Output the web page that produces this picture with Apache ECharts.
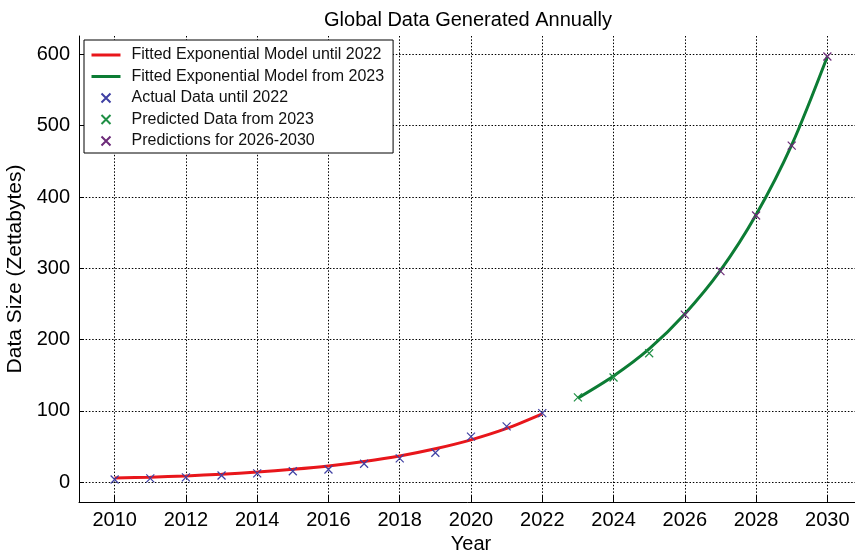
<!DOCTYPE html>
<html>
<head>
<meta charset="utf-8">
<title>Global Data Generated Annually</title>
<script src="https://cdn.jsdelivr.net/npm/echarts@6/dist/echarts.min.js"></script>
<style>
  html, body { margin: 0; padding: 0; background: #ffffff; }
  #chart { width: 855px; height: 551px; }
</style>
</head>
<body>
<div id="chart"></div>
<script>
// Fitted exponential curve through the historical years
const fitYearsEarly = [2010, 2011, 2012, 2013, 2014, 2015, 2016, 2017, 2018, 2019, 2020, 2021, 2022];
const fitValuesEarly = [6, 7.2, 9, 11.4, 14.4, 18.3, 23, 29.3, 37, 47, 59.5, 75.5, 96];

// Fitted exponential curve for the forecast years
const fitYearsLate = [2023, 2024, 2025, 2026, 2027, 2028, 2029, 2030];
const fitValuesLate = [118, 149, 187, 236, 297, 375, 473, 597];

// Reported volumes (zettabytes)
const actualYears = [2010, 2011, 2012, 2013, 2014, 2015, 2016, 2017, 2018, 2019, 2020, 2021, 2022];
const actualValues = [4, 5.5, 7, 9.5, 12.5, 15.5, 18, 26, 33.5, 41.5, 64, 78.5, 97];

// Forecast volumes
const predictedYears = [2023, 2024, 2025];
const predictedValues = [119, 147, 181];

const outlookYears = [2026, 2027, 2028, 2029, 2030];
const outlookValues = [235, 296, 374, 472, 597];

// Axis ticks
const yearTicks = [2010, 2012, 2014, 2016, 2018, 2020, 2022, 2024, 2026, 2028, 2030];
const sizeTicks = [0, 100, 200, 300, 400, 500, 600];

const pairs = (xs, ys) => xs.map((x, i) => [x, ys[i]]);

const FONT = "'Liberation Sans', Arial, Helvetica, sans-serif";
const CROSS = 'path://M0,0L10,10M10,0L0,10';

const RED = '#e8161b';
const GREEN = '#0c7c34';
const BLUE = '#3f40a3';
const GREEN_MARK = '#1f8f45';
const PURPLE = '#6c2a78';

const chart = echarts.init(document.getElementById('chart'), null, { renderer: 'canvas' });

const gridLine = { show: true, lineStyle: { color: '#000', width: 1, type: [1.5, 1.8] } };
const noDot = { opacity: 0 };

chart.setOption({
  animation: false,
  backgroundColor: '#ffffff',
  textStyle: { fontFamily: FONT },
  title: {
    text: 'Global Data Generated Annually',
    left: 468,
    top: 10,
    padding: 0,
    textAlign: 'center',
    textStyle: { fontFamily: FONT, fontSize: 20, fontWeight: 'normal', color: '#000' }
  },
  legend: {
    orient: 'vertical',
    left: 84,
    top: 40,
    itemWidth: 29,
    itemHeight: 9,
    itemGap: 5.5,
    padding: [7, 9, 4, 6],
    borderColor: '#000',
    borderWidth: 1,
    borderRadius: 0,
    backgroundColor: '#ffffff',
    lineStyle: { width: 3 },
    textStyle: { fontFamily: FONT, fontSize: 16, color: '#111', lineHeight: 16, padding: [0, 0, 0, 6] },
    data: [
      { name: 'Fitted Exponential Model until 2022', itemStyle: noDot },
      { name: 'Fitted Exponential Model from 2023', itemStyle: noDot },
      { name: 'Actual Data until 2022', icon: CROSS },
      { name: 'Predicted Data from 2023', icon: CROSS },
      { name: 'Predictions for 2026-2030', icon: CROSS }
    ]
  },
  grid: { left: 79, top: 36, width: 784, height: 466, containLabel: false, outerBoundsMode: 'none' },
  xAxis: {
    type: 'value',
    min: 2009,
    max: 2031,
    name: 'Year',
    nameLocation: 'middle',
    nameGap: 29,
    nameTextStyle: { fontFamily: FONT, fontSize: 20, color: '#000' },
    axisLine: { show: true, onZero: false, lineStyle: { color: '#000', width: 1 } },
    axisTick: { show: true, inside: true, length: 6, customValues: yearTicks, lineStyle: { color: '#000' } },
    axisLabel: { customValues: yearTicks, margin: 8, fontFamily: FONT, fontSize: 20, color: '#000', formatter: v => String(v) },
    splitLine: gridLine
  },
  yAxis: {
    type: 'value',
    min: -27.6,
    max: 625.7,
    name: 'Data Size (Zettabytes)',
    nameLocation: 'middle',
    nameGap: 53,
    nameRotate: 90,
    nameTextStyle: { fontFamily: FONT, fontSize: 21, color: '#000' },
    axisLine: { show: true, onZero: false, lineStyle: { color: '#000', width: 1 } },
    axisTick: { show: true, inside: true, length: 5, customValues: sizeTicks, lineStyle: { color: '#000' } },
    axisLabel: { customValues: sizeTicks, margin: 9, fontFamily: FONT, fontSize: 20, color: '#000', formatter: v => String(v) },
    splitLine: gridLine
  },
  series: [
    {
      name: 'Fitted Exponential Model until 2022',
      type: 'line',
      data: pairs(fitYearsEarly, fitValuesEarly),
      symbol: 'none',
      smooth: 0.3,
      lineStyle: { color: RED, width: 3 },
      itemStyle: { color: RED },
      z: 2
    },
    {
      name: 'Fitted Exponential Model from 2023',
      type: 'line',
      data: pairs(fitYearsLate, fitValuesLate),
      symbol: 'none',
      smooth: 0.3,
      lineStyle: { color: GREEN, width: 3 },
      itemStyle: { color: GREEN },
      z: 2
    },
    {
      name: 'Actual Data until 2022',
      type: 'scatter',
      data: pairs(actualYears, actualValues),
      symbol: CROSS,
      symbolSize: 8,
      itemStyle: { color: BLUE, borderColor: BLUE, borderWidth: 1.2, opacity: 1 },
      z: 3
    },
    {
      name: 'Predicted Data from 2023',
      type: 'scatter',
      data: pairs(predictedYears, predictedValues),
      symbol: CROSS,
      symbolSize: 8,
      itemStyle: { color: GREEN_MARK, borderColor: GREEN_MARK, borderWidth: 1.2, opacity: 1 },
      z: 3
    },
    {
      name: 'Predictions for 2026-2030',
      type: 'scatter',
      data: pairs(outlookYears, outlookValues),
      symbol: CROSS,
      symbolSize: 8,
      itemStyle: { color: PURPLE, borderColor: PURPLE, borderWidth: 1.2, opacity: 1 },
      z: 3
    }
  ]
});
</script>
</body>
</html>
